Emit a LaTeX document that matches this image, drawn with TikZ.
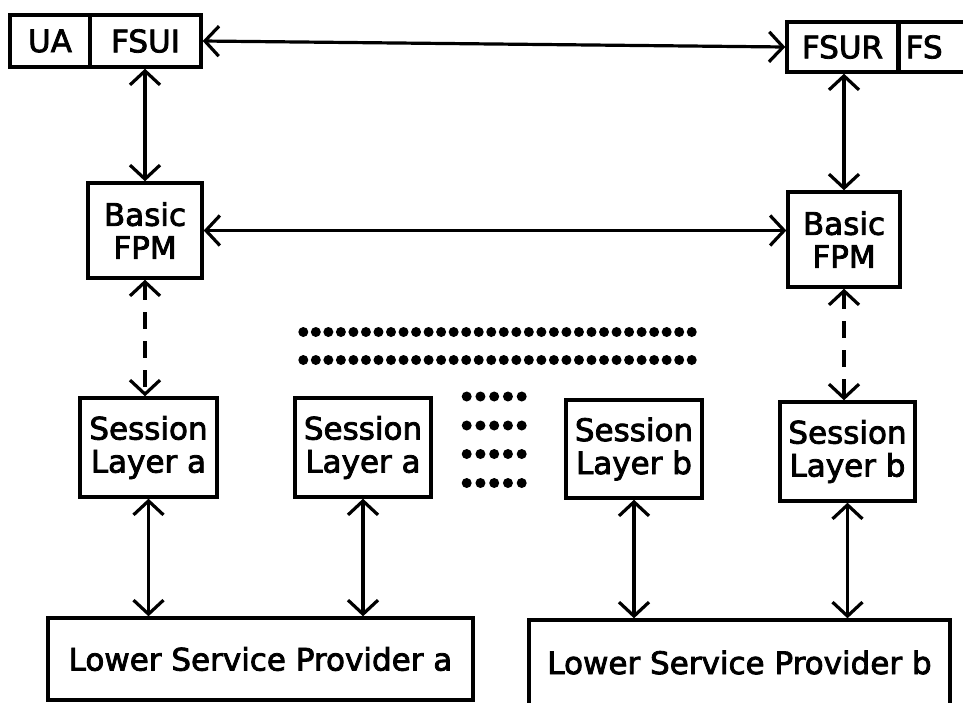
\documentclass[tikz,border=0pt]{standalone}
\usepackage{fontspec}
\setmainfont{DejaVu Sans}[FakeBold=2.6]
\usetikzlibrary{arrows.meta}

\tikzset{
  box/.style={draw, line width=3.4pt, inner sep=0pt, align=center,
              font=\fontsize{31}{33}\selectfont},
  barb/.tip={Straight Barb[length=14pt,width=30pt]},
  link/.style={line width=3.2pt, barb-barb},
  dashlink/.style={link, dash pattern=on 17pt off 12pt},
  dot/.style={fill=black}
}

\begin{document}
\begin{tikzpicture}[x=1pt,y=-1pt]
\useasboundingbox (0,0) rectangle (963,702);
\clip (0,0) rectangle (963,702);

% top row: user agent / file service user interfaces
\node[box, minimum width=80pt,  minimum height=52pt] (UA)   at (50,41)    {UA};
\node[box, minimum width=111pt, minimum height=52pt] (FSUI) at (145.5,41) {FSUI};
\node[box, minimum width=111pt, minimum height=50pt] (FSUR) at (842.5,47) {FSUR};
\node[box, anchor=west, minimum height=50pt, text width=70pt, align=left,
      inner xsep=6pt] (FS) at (898,47) {FS};

% basic file protocol machines
\node[box, minimum width=114pt, minimum height=95pt] (FPMa) at (145,230.5) {Basic\\FPM};
\node[box, minimum width=112pt, minimum height=95pt] (FPMb) at (844,239.5) {Basic\\FPM};

% session layer entities
\node[box, minimum width=137pt, minimum height=99pt] (SLa1) at (148.5,447.5) {Session\\Layer a};
\node[box, minimum width=136pt, minimum height=99pt] (SLa2) at (363,447.5)   {Session\\Layer a};
\node[box, minimum width=136pt, minimum height=98pt] (SLb1) at (634,449)     {Session\\Layer b};
\node[box, minimum width=135pt, minimum height=99pt] (SLb2) at (847.5,451.5) {Session\\Layer b};

% lower service providers
\node[box, minimum width=425pt, minimum height=82pt] (LSPa) at (260.5,659) {Lower Service Provider a};
\node[box, minimum width=421pt, minimum height=85pt] (LSPb) at (739.5,662.5) {Lower Service Provider b};

% connections
\draw[link] (FSUI.east) -- (FSUR.west);
\draw[link] (FSUI.south -| FPMa.north) -- (FPMa.north);
\draw[link] (FSUR.south -| FPMb.north) -- (FPMb.north);
\draw[link] (FPMa.east |- FPMa.center) -- (FPMb.west |- FPMa.center);
\draw[dashlink] (FPMa.south) -- (FPMa.south |- SLa1.north);
\draw[dashlink] (FPMb.south) -- (FPMb.south |- SLb2.north);
\draw[link] (SLa1.south) -- (SLa1.south |- LSPa.north);
\draw[link] (SLa2.south) -- (SLa2.south |- LSPa.north);
\draw[link] (SLb1.south) -- (SLb1.south |- LSPb.north);
\draw[link] (SLb2.south) -- (SLb2.south |- LSPb.north);

% ellipsis rows of dots
\foreach \i in {0,...,31} {
  \fill[dot] (303.3+12.53*\i,332) circle (5pt);
  \fill[dot] (303.3+12.53*\i,360) circle (5pt);
}
\foreach \r in {396.5,425.5,454,483}
  \foreach \i in {0,...,4}
    \fill[dot] (466.7+13.75*\i,\r) circle (5pt);
\end{tikzpicture}
\end{document}
